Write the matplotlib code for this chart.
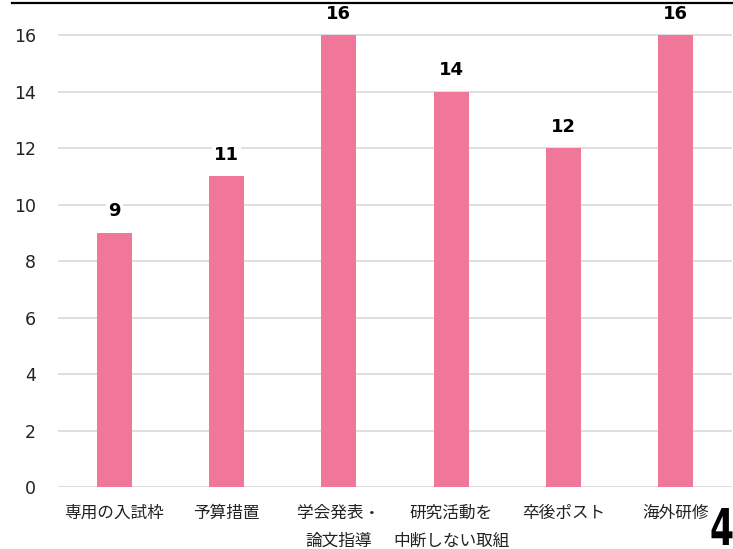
import matplotlib
matplotlib.use("Agg")
import matplotlib.pyplot as plt
from matplotlib.lines import Line2D
from matplotlib.textpath import TextPath
from matplotlib.patches import PathPatch
from matplotlib.font_manager import FontProperties
from matplotlib.transforms import Affine2D

plt.rcParams['font.family'] = ['Noto Sans CJK JP', 'DejaVu Sans']

categories = ["専用の入試枠", "予算措置", "学会発表・\n論文指導", "研究活動を\n中断しない取組", "卒後ポスト", "海外研修"]
values = [9, 11, 16, 14, 12, 16]
yticks = [0, 2, 4, 6, 8, 10, 12, 14, 16]

W, H = 733, 549
fig = plt.figure(figsize=(W / 100, H / 100), dpi=100)
ax = fig.add_axes([58 / W, (H - 487) / H, (732 - 58) / W, 487 / H])

x = list(range(len(categories)))
ax.bar(x, values, width=0.31, color="#F07799", zorder=2)
ax.set_xlim(-0.5, len(categories) - 0.5)
ax.set_ylim(0, 17.24)
ax.set_yticks(yticks)
ax.set_yticklabels([str(t) for t in yticks], fontsize=12.5, family=['DejaVu Sans'], color="#222222")
ax.yaxis.grid(True, color="#d9d9d9", linewidth=1.2, zorder=0)
ax.set_axisbelow(True)
ax.tick_params(axis='y', length=0, pad=16)
ax.tick_params(axis='x', length=0, pad=13)
ax.set_xticks(x)
ax.set_xticklabels(categories, fontsize=12, linespacing=1.85, color="#222222", va='top')
for s in ax.spines.values():
    s.set_visible(False)

for xi, v in zip(x, values):
    ax.annotate(str(v), (xi, v), xytext=(0, 9), textcoords='offset points',
                ha='center', va='bottom', fontsize=13, fontweight='bold',
                family=['DejaVu Sans'],
                bbox=dict(facecolor='white', edgecolor='none', pad=1.5), zorder=3)

# top border line (cropped slide element)
fig.add_artist(Line2D([12 / W, 1.0], [1 - 2.5 / H, 1 - 2.5 / H], color='black', linewidth=1.6, transform=fig.transFigure))

# slide page number (condensed glyph, drawn in pixel coordinates)
tp = TextPath((0, 0), "4", size=50, prop=FontProperties(family='DejaVu Sans', weight='bold'))
ext = tp.get_extents()
sx = 21.0 / ext.width
sy = 37.0 / ext.height
tr = Affine2D().translate(-ext.x0, -ext.y0).scale(sx, sy).translate(711.5, 549 - 545)
patch = PathPatch(tr.transform_path(tp), facecolor='black', edgecolor='none')
patch.set_transform(Affine2D())
fig.add_artist(patch)

fig.savefig("out.png", dpi=100)
